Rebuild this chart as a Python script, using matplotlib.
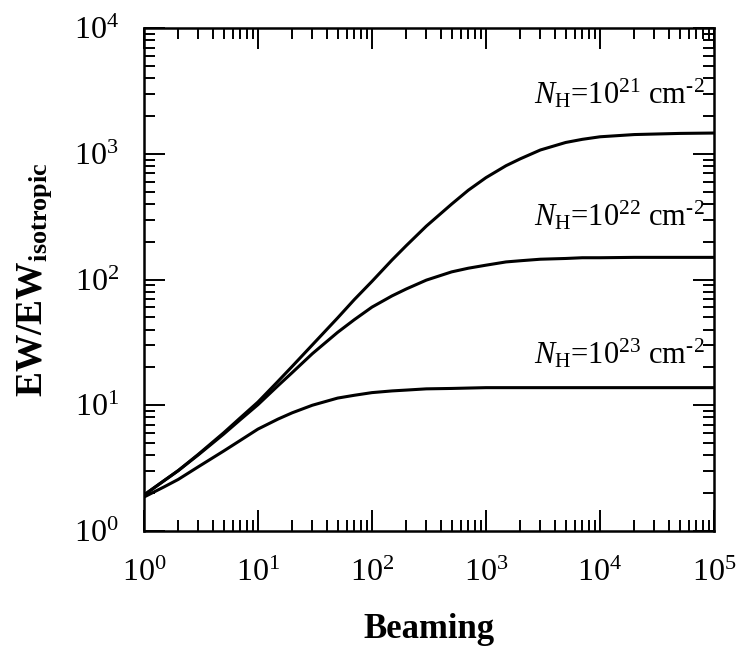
import numpy as np
import matplotlib
matplotlib.use('Agg')
import matplotlib.pyplot as plt
from matplotlib.ticker import LogLocator, LogFormatterMathtext, NullFormatter

plt.rcParams['font.family'] = ['Liberation Serif', 'DejaVu Serif']
plt.rcParams['mathtext.fontset'] = 'custom'
plt.rcParams['mathtext.rm'] = 'Liberation Serif'
plt.rcParams['mathtext.it'] = 'Liberation Serif:italic'
plt.rcParams['mathtext.bf'] = 'Liberation Serif:bold'

# beaming factor and equivalent width ratio for three column densities
beaming = [1, 1.5, 2, 3, 5, 7, 10, 15, 20, 30, 50, 70, 100, 150, 200, 300, 500, 700,
           1000, 1500, 2000, 3000, 5000, 7000, 1e4, 2e4, 5e4, 1e5]
ew_nh21 = [1.93, 2.51, 3.02, 4.07, 6.03, 7.94, 10.6, 15.5, 20.4, 30.2, 49.5, 69.2, 96.6,
           143, 186, 266, 398, 513, 646, 804, 912, 1072, 1230, 1303, 1365, 1422, 1452, 1462]
ew_nh22 = [1.93, 2.51, 3.02, 4.03, 5.89, 7.67, 10.1, 14.3, 18.2, 25.7, 38.0, 47.9, 60.3,
           74.1, 84.1, 98.9, 115, 123, 130, 138, 141, 145, 147, 149, 149, 150, 150, 150]
ew_nh23 = [1.86, 2.24, 2.57, 3.24, 4.32, 5.25, 6.46, 7.76, 8.71, 10.0, 11.4, 12.0, 12.6,
           13.0, 13.2, 13.5, 13.6, 13.7, 13.8, 13.8, 13.8, 13.8, 13.8, 13.8, 13.8, 13.8, 13.8, 13.8]

labels = [r'$N_{\mathrm{H}}$=10$^{21}$ cm$^{\text{-}2}$',
          r'$N_{\mathrm{H}}$=10$^{22}$ cm$^{\text{-}2}$',
          r'$N_{\mathrm{H}}$=10$^{23}$ cm$^{\text{-}2}$']
label_y = [2520, 270, 21.4]

fig = plt.figure(figsize=(7.38, 6.60), dpi=100)
ax = fig.add_axes([0.195, 0.1955, 0.7725, 0.762])

for ys in (ew_nh21, ew_nh22, ew_nh23):
    ax.plot(beaming, ys, color='black', linewidth=2.2)

for txt, yy in zip(labels, label_y):
    ax.text(8.3e4, yy, txt, ha='right', va='baseline', fontsize=22)

ax.set_xscale('log')
ax.set_yscale('log')
ax.set_xlim(1, 1e5)
ax.set_ylim(1, 1e4)

for a in (ax.xaxis, ax.yaxis):
    a.set_major_locator(LogLocator(base=10, numticks=20))
    a.set_minor_locator(LogLocator(base=10, subs=np.arange(2, 10), numticks=20))
    a.set_major_formatter(LogFormatterMathtext())
    a.set_minor_formatter(NullFormatter())

ax.tick_params(which='both', direction='in', top=True, right=True, width=1.4)
ax.tick_params(which='major', length=15, labelsize=23)
ax.tick_params(which='minor', length=8)
ax.tick_params(axis='x', which='major', pad=20)
ax.tick_params(axis='y', which='major', pad=18)
for s in ax.spines.values():
    s.set_linewidth(1.8)

ax.set_xlabel('Beaming', fontsize=25, fontweight='bold', labelpad=18)
ax.set_ylabel(r'$\mathbf{EW/EW_{isotropic}}$', fontsize=27, labelpad=14)

fig.savefig('out.png', dpi=100)
